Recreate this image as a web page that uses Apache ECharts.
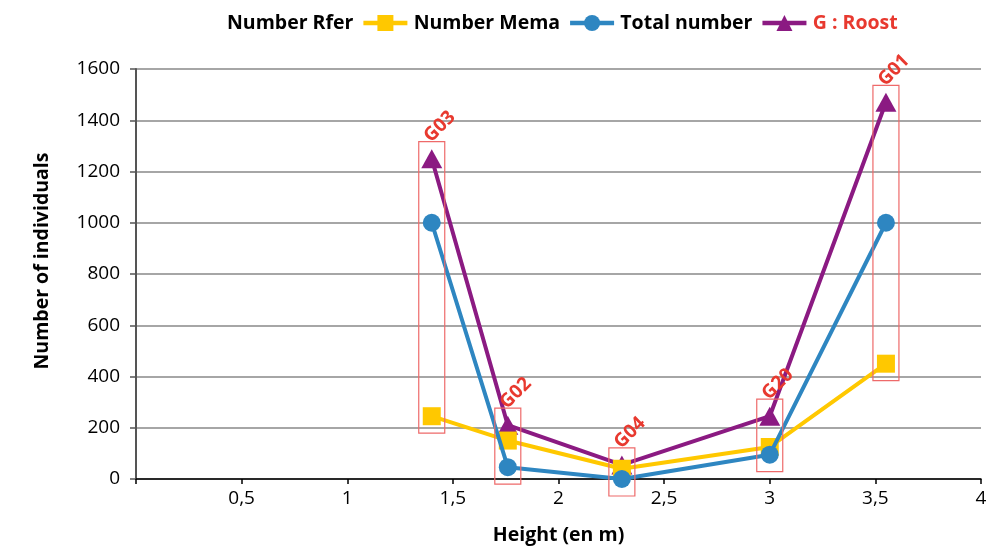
<!DOCTYPE html>
<html>
<head>
<meta charset="utf-8">
<script src="https://cdn.jsdelivr.net/npm/echarts@6/dist/echarts.min.js"></script>
<style>
  html, body { margin: 0; padding: 0; background: #ffffff; }
  #chart { width: 1006px; height: 547px; }
</style>
</head>
<body>
<div id="chart"></div>
<script>
// Roost height (m) and the counts recorded at each roost
const roosts = ['G03', 'G02', 'G04', 'G20', 'G01'];
const heights = [1.4, 1.76, 2.3, 3.0, 3.55];
const numberRfer = [245, 150, 40, 125, 450];
const numberMema = [1000, 46, 0, 95, 1000];
const totalNumber = [1250, 210, 55, 245, 1470];

const xTicks = [0, 0.5, 1, 1.5, 2, 2.5, 3, 3.5, 4];
const yTicks = [0, 200, 400, 600, 800, 1000, 1200, 1400, 1600];

const FONT = 'Open Sans';
const C_YELLOW = '#FFC800';
const C_BLUE = '#2E86C1';
const C_PURPLE = '#8B1A82';
const C_RED = '#E8392F';

const pairs = (ys) => heights.map((h, i) => [h, ys[i]]);

// one box per roost, spanning the lowest and highest count at that height
const roostBoxes = heights.map((h, i) => {
  const vals = [numberRfer[i], numberMema[i], totalNumber[i]];
  return [h, Math.min(...vals), Math.max(...vals), roosts[i]];
});

const chart = echarts.init(document.getElementById('chart'));

chart.setOption({
  animation: false,
  textStyle: { fontFamily: FONT },
  grid: {
    left: 136, right: 25, top: 69, bottom: 68,
    containLabel: false,
    outerBoundsMode: 'none'
  },
  legend: {
    top: 8,
    left: 222,
    align: 'right',
    itemGap: 4,
    itemWidth: 44,
    itemHeight: 20,
    lineStyle: { width: 4.5 },
    textStyle: {
      fontFamily: FONT, fontWeight: 'bold', fontSize: 19.5, color: '#000',
      padding: [0, 5, 0, 0]
    },
    data: [
      { name: 'Number Rfer' },
      { name: 'Number Mema' },
      { name: 'Total number' },
      { name: 'G : Roost', textStyle: { color: C_RED, padding: [0, 0, 0, 6] }, itemStyle: { opacity: 0 }, lineStyle: { opacity: 0 } }
    ]
  },
  xAxis: {
    type: 'value',
    min: xTicks[0],
    max: xTicks[xTicks.length - 1],
    interval: 0.5,
    name: 'Height (en m)',
    nameLocation: 'middle',
    nameGap: 46,
    nameTextStyle: { fontFamily: FONT, fontWeight: 'bold', fontSize: 19.5, color: '#000' },
    axisLine: { show: true, lineStyle: { color: '#000', width: 1.5 } },
    axisTick: { show: true, inside: false, length: 5, lineStyle: { color: '#000', width: 1.5 } },
    axisLabel: {
      margin: 10,
      fontSize: 19,
      color: '#000',
      formatter: (v) => (v === 0 ? '' : String(v).replace('.', ','))
    },
    splitLine: { show: false }
  },
  yAxis: {
    type: 'value',
    min: yTicks[0],
    max: yTicks[yTicks.length - 1],
    interval: 200,
    name: 'Number of individuals',
    nameLocation: 'middle',
    nameGap: 84,
    nameRotate: 90,
    nameTextStyle: { fontFamily: FONT, fontWeight: 'bold', fontSize: 19.5, color: '#000', padding: [0, 0, 0, 26] },
    axisLine: { show: true, lineStyle: { color: '#555', width: 2 } },
    axisTick: { show: true, inside: false, length: 6, lineStyle: { color: '#555', width: 1.5 } },
    axisLabel: { margin: 16, fontSize: 19, color: '#000', formatter: (v) => String(v) },
    splitLine: { show: true, lineStyle: { color: '#A6A6A6', width: 2 } }
  },
  series: [
    {
      name: 'Number Rfer',
      type: 'line',
      z: 3,
      data: pairs(numberRfer),
      color: C_YELLOW,
      symbol: 'rect',
      symbolSize: 18,
      lineStyle: { width: 4, color: C_YELLOW },
      itemStyle: { color: C_YELLOW }
    },
    {
      name: 'Number Mema',
      type: 'line',
      z: 4,
      data: pairs(numberMema),
      color: C_BLUE,
      symbol: 'circle',
      symbolSize: 18,
      lineStyle: { width: 4, color: C_BLUE },
      itemStyle: { color: C_BLUE }
    },
    {
      name: 'Total number',
      type: 'line',
      z: 2,
      data: pairs(totalNumber),
      color: C_PURPLE,
      symbol: 'triangle',
      symbolSize: [21, 19],
      lineStyle: { width: 4, color: C_PURPLE },
      itemStyle: { color: C_PURPLE }
    },
    {
      name: 'G : Roost',
      type: 'custom',
      z: 6,
      clip: false,
      color: C_RED,
      data: roostBoxes,
      renderItem: (params, api) => {
        const lo = api.coord([api.value(0), api.value(1)]);
        const hi = api.coord([api.value(0), api.value(2)]);
        const top = hi[1] - 17;
        const bottom = lo[1] + 17;
        return {
          type: 'group',
          children: [
            {
              type: 'rect',
              shape: { x: lo[0] - 13, y: top, width: 26, height: bottom - top },
              style: { fill: 'none', stroke: '#EE6A6A', lineWidth: 1.2 }
            },
            {
              type: 'text',
              x: lo[0] + 8,
              y: top - 15,
              rotation: Math.PI / 4,
              style: {
                text: roostBoxes[params.dataIndex][3],
                fill: C_RED,
                font: 'bold 19px "Open Sans"',
                align: 'center',
                verticalAlign: 'middle'
              }
            }
          ]
        };
      }
    }
  ]
});
</script>
</body>
</html>
